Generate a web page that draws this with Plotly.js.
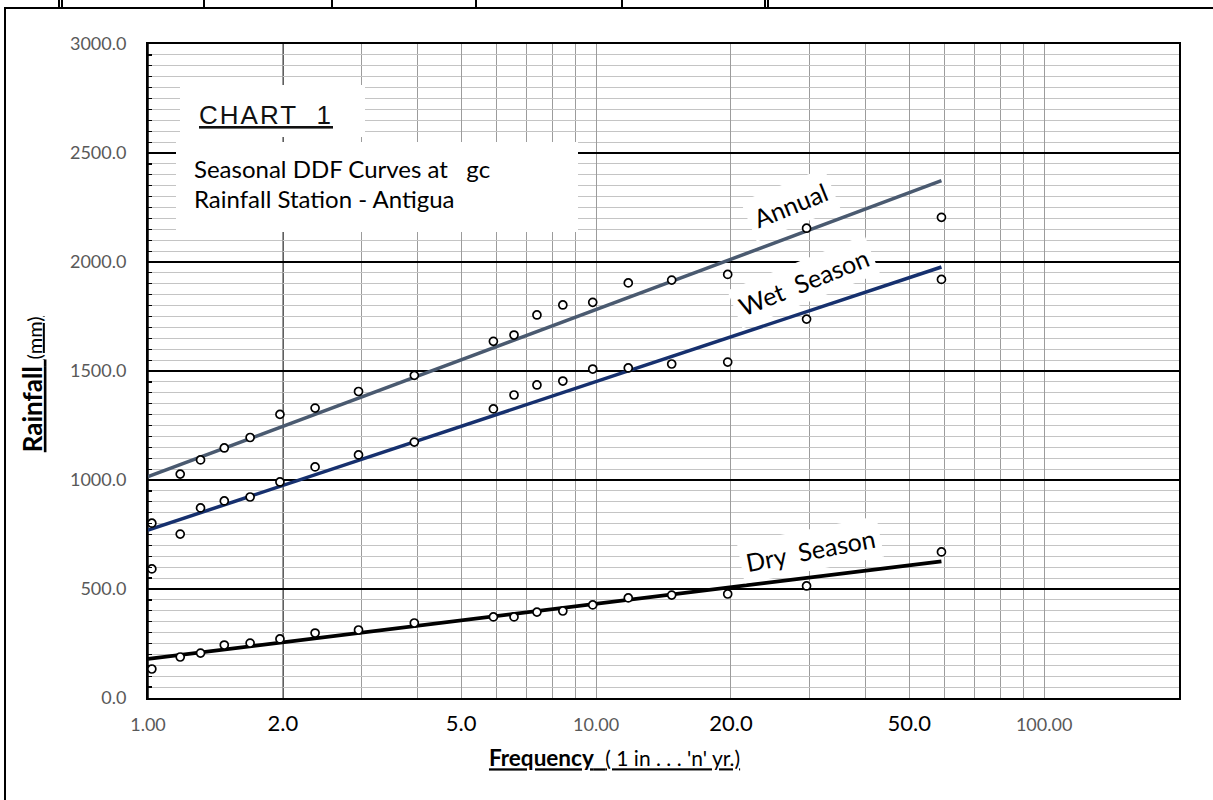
<!DOCTYPE html>
<html>
<head>
<meta charset="utf-8">
<script src="https://cdn.plot.ly/plotly-3.0.1.min.js"></script>
<style>html,body{margin:0;padding:0;background:#fff;}#chart{width:1213px;height:800px;}</style>
</head>
<body>
<div id="chart"></div>
<script>
// ---- data ----
const returnPeriod = [59, 29.5, 19.67, 14.75, 11.8, 9.83, 8.43, 7.38, 6.56, 5.9, 3.93, 2.95, 2.36, 1.97, 1.69, 1.48, 1.31, 1.18, 1.02];
const annualRain = [2205, 2155, 1943, 1917, 1904, 1815, 1803, 1757, 1665, 1636, 1480, 1406, 1330, 1301, 1195, 1147, 1092, 1027, 802];
const wetRain    = [1920, 1738, 1541, 1532, 1514, 1509, 1454, 1436, 1390, 1326, 1174, 1115, 1060, 991, 922, 904, 872, 752, 592];
const dryRain    = [670, 514, 477, 472, 459, 427, 399, 394, 372, 372, 344, 312, 298, 271, 252, 243, 206, 188, 133];

const fitPeriod = [1, 59];
const annualFit = [1015, 2373];
const wetFit    = [770, 1977];
const dryFit    = [179, 627];

const xTickVals  = [1, 2, 5, 10, 20, 50, 100];
const xTickText  = ['1.00', '2.0', '5.0', '10.00', '20.0', '50.0', '100.00'];
const xMinorVals = [3, 4, 6, 7, 8, 9, 30, 40, 60, 70, 80, 90];
const xMajorGrid = [10, 100];

const seriesNames = ['Annual', 'Wet  Season', 'Dry  Season'];

// ---- styling ----
const bigTicks = new Set(['2.0', '5.0', '20.0', '50.0']);
const styledTickText = xTickText.map(t => bigTicks.has(t)
  ? '<span style="font-size:22px;color:#000000">' + t + '</span>' : t);

const lineColors = ['#4a5a70', '#16306e', '#000000'];
const L = Math.log10;

function fitTrace(y, color, w) {
  return {x: fitPeriod, y: y, type: 'scatter', mode: 'lines',
          line: {color: color, width: w}, hoverinfo: 'skip'};
}
function pointTrace(y) {
  return {x: returnPeriod, y: y, type: 'scatter', mode: 'markers',
          marker: {symbol: 'circle', size: 8, color: '#ffffff', line: {color: '#000000', width: 1.7}}};
}

const data = [
  fitTrace(annualFit, lineColors[0], 3.5),
  fitTrace(wetFit, lineColors[1], 3.5),
  fitTrace(dryFit, lineColors[2], 3.8),
  pointTrace(annualRain),
  pointTrace(wetRain),
  pointTrace(dryRain)
];

// plot area is 148..1179 px (x) and 44..698 px (y)
const px = v => (v - 148) / 1031;      // page px -> paper x
const py = v => (698 - v) / 654;       // page px -> paper y

const shapes = [];
xMajorGrid.forEach(v => shapes.push({type: 'line', xref: 'x', yref: 'paper', x0: L(v), x1: L(v), y0: 0, y1: 1,
  line: {color: '#000000', width: 1.5}, layer: 'below'}));
shapes.push({type: 'rect', xref: 'paper', yref: 'paper', x0: px(180), x1: px(365), y0: py(137), y1: py(85),
  fillcolor: '#ffffff', line: {width: 0}, layer: 'above'});
shapes.push({type: 'rect', xref: 'paper', yref: 'paper', x0: px(176), x1: px(578), y0: py(232), y1: py(142),
  fillcolor: '#ffffff', line: {width: 0}, layer: 'above'});
shapes.push({type: 'line', xref: 'paper', yref: 'paper', x0: px(4), x1: px(1213), y0: py(8), y1: py(8),
  line: {color: '#000000', width: 2}});
shapes.push({type: 'line', xref: 'paper', yref: 'paper', x0: px(5), x1: px(5), y0: py(8), y1: py(800),
  line: {color: '#000000', width: 2}});
[59, 62, 204, 332, 476, 622, 765, 768].forEach(v => shapes.push({type: 'line', xref: 'paper', yref: 'paper',
  x0: px(v), x1: px(v), y0: py(0), y1: py(8), line: {color: '#000000', width: 2}}));

const labelFont = {family: 'Lato, sans-serif', size: 25, color: '#000000'};
const annotations = [
  {xref: 'paper', yref: 'paper', x: px(197), y: py(115), xanchor: 'left', yanchor: 'middle', showarrow: false,
   text: '<u><span style="letter-spacing:2px">CHART&nbsp;&nbsp;1</span></u>',
   font: {family: 'Liberation Sans, Arial, sans-serif', size: 26, color: '#111111'}},
  {xref: 'paper', yref: 'paper', x: px(192), y: py(168), xanchor: 'left', yanchor: 'middle', showarrow: false,
   text: 'Seasonal DDF Curves at&nbsp;&nbsp;&nbsp;gc', font: {family: 'Lato, sans-serif', size: 24, color: '#000000'}},
  {xref: 'paper', yref: 'paper', x: px(192), y: py(199), xanchor: 'left', yanchor: 'middle', showarrow: false,
   text: 'Rainfall Station - Antigua', font: {family: 'Lato, sans-serif', size: 24, color: '#000000'}},
  {xref: 'paper', yref: 'paper', x: px(790), y: py(205), xanchor: 'center', yanchor: 'middle', showarrow: false,
   text: seriesNames[0], textangle: -22, bgcolor: '#ffffff', borderpad: 6, font: labelFont},
  {xref: 'paper', yref: 'paper', x: px(803), y: py(282), xanchor: 'center', yanchor: 'middle', showarrow: false,
   text: seriesNames[1].replace('  ', '&nbsp; '), textangle: -22, bgcolor: '#ffffff', borderpad: 5, font: labelFont},
  {xref: 'paper', yref: 'paper', x: px(810), y: py(550), xanchor: 'center', yanchor: 'middle', showarrow: false,
   text: seriesNames[2].replace('  ', '&nbsp; '), textangle: -11, bgcolor: '#ffffff', borderpad: 5, font: labelFont}
];

const layout = {
  width: 1213, height: 800,
  margin: {l: 148, r: 34, t: 44, b: 102, pad: 0},
  paper_bgcolor: '#ffffff', plot_bgcolor: '#ffffff',
  showlegend: false,
  font: {family: 'Lato, sans-serif', color: '#000000'},
  xaxis: {
    type: 'log', range: [0, L(200)], autorange: false,
    tickmode: 'array', tickvals: xTickVals, ticktext: styledTickText,
    tickfont: {family: 'Lato, sans-serif', size: 18, color: '#595959'},
    ticks: '', ticklabelstandoff: 9,
    showgrid: true, gridcolor: '#9c9c9c', gridwidth: 1,
    minor: {tickmode: 'array', tickvals: xMinorVals, showgrid: true, gridcolor: '#9c9c9c', gridwidth: 1, ticks: ''},
    showline: true, linecolor: '#000000', linewidth: 2, mirror: true, zeroline: false,
    title: {text: '<u><b>Frequency</b>&nbsp;&nbsp;<span style="font-size:21px">( 1 in . . . \'n\' yr.)</span></u>' + '&nbsp;'.repeat(17),
            font: {family: 'Lato, sans-serif', size: 22.5, color: '#000000'}, standoff: 16}
  },
  yaxis: {
    range: [0, 3000], autorange: false,
    tickmode: 'linear', tick0: 0, dtick: 500, tickformat: '.1f',
    tickfont: {family: 'Lato, sans-serif', size: 18, color: '#595959'},
    ticks: 'inside', ticklen: 4, tickcolor: '#000000', tickwidth: 1.3, ticklabelstandoff: 16,
    showgrid: true, gridcolor: '#000000', gridwidth: 1.3,
    minor: {tick0: 0, dtick: 50, showgrid: true, gridcolor: '#c4c4c4', gridwidth: 1,
            ticks: 'inside', ticklen: 4, tickcolor: '#000000', tickwidth: 1.2},
    showline: true, linecolor: '#000000', linewidth: 2, mirror: true, zeroline: false,
    title: {text: '<u><b>Rainfall</b> <span style="font-size:20px;font-weight:normal">(mm)</span></u>' + '&nbsp;'.repeat(4),
            font: {family: 'Lato, sans-serif', size: 26, color: '#000000'}, standoff: 20}
  },
  shapes: shapes,
  annotations: annotations
};

Plotly.newPlot('chart', data, layout, {staticPlot: true, displayModeBar: false});
</script>
</body>
</html>
